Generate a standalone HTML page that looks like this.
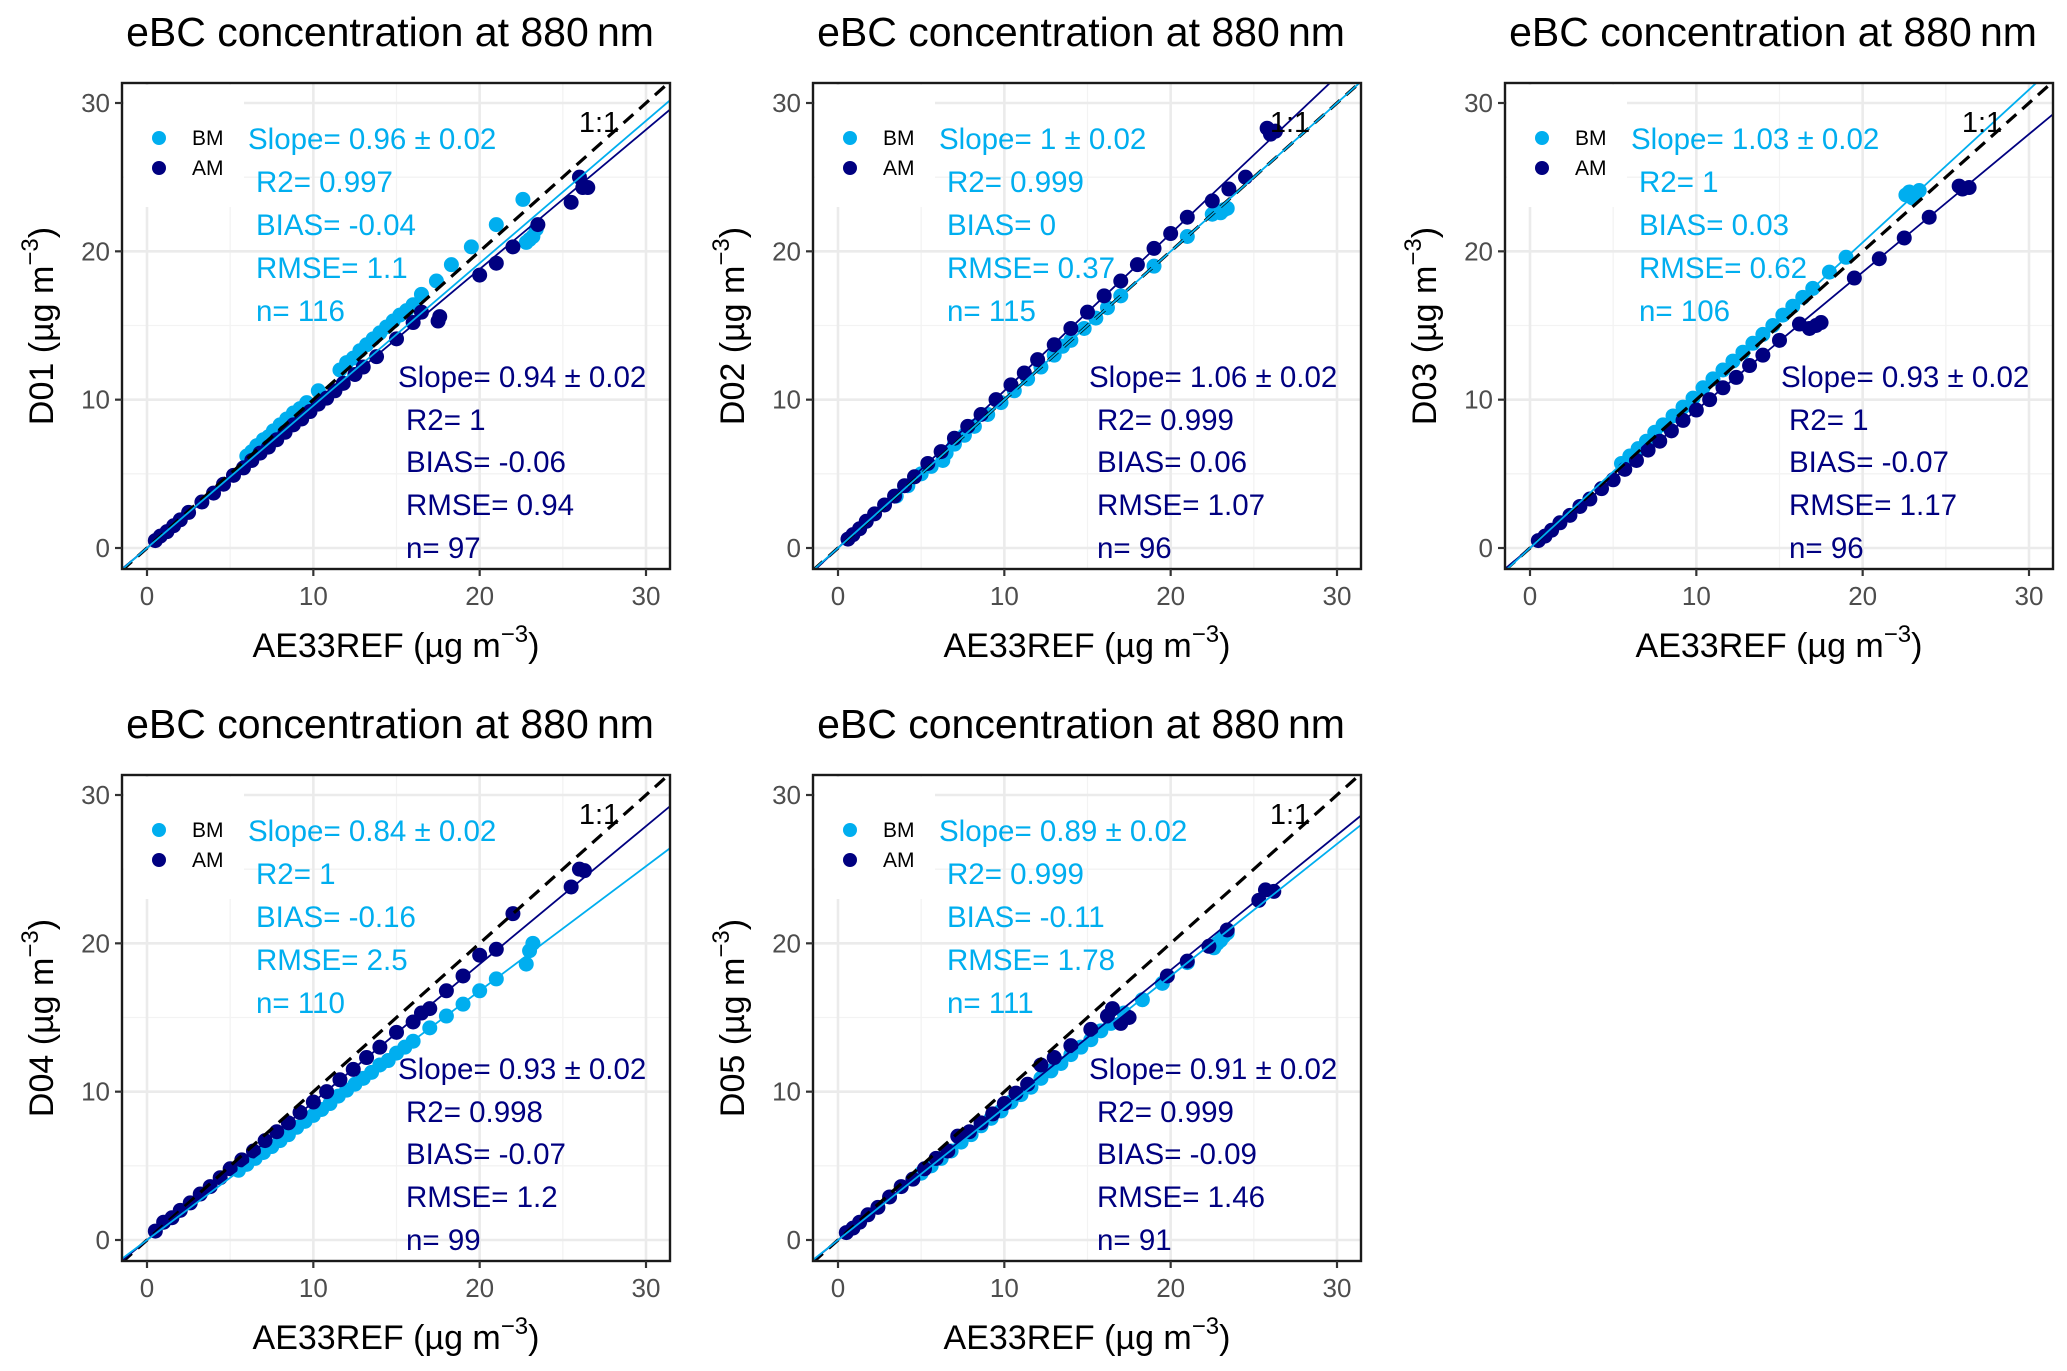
<!DOCTYPE html>
<html><head><meta charset="utf-8"><style>
html,body{margin:0;padding:0;background:#fff;}
svg{display:block;font-family:"Liberation Sans",Arial,sans-serif;}
</style></head><body>
<svg id="chart" width="2067" height="1371" viewBox="0 0 2067 1371" xmlns="http://www.w3.org/2000/svg"></svg>
<script>
const panelNames = ["D01","D02","D03","D04","D05"];
const bmSlopes = [0.96,1,1.03,0.84,0.89];
const amSlopes = [0.94,1.06,0.93,0.93,0.91];
const bmStats = [
 ["Slope= 0.96 ± 0.02","R2= 0.997","BIAS= -0.04","RMSE= 1.1","n= 116"],
 ["Slope= 1 ± 0.02","R2= 0.999","BIAS= 0","RMSE= 0.37","n= 115"],
 ["Slope= 1.03 ± 0.02","R2= 1","BIAS= 0.03","RMSE= 0.62","n= 106"],
 ["Slope= 0.84 ± 0.02","R2= 1","BIAS= -0.16","RMSE= 2.5","n= 110"],
 ["Slope= 0.89 ± 0.02","R2= 0.999","BIAS= -0.11","RMSE= 1.78","n= 111"]];
const amStats = [
 ["Slope= 0.94 ± 0.02","R2= 1","BIAS= -0.06","RMSE= 0.94","n= 97"],
 ["Slope= 1.06 ± 0.02","R2= 0.999","BIAS= 0.06","RMSE= 1.07","n= 96"],
 ["Slope= 0.93 ± 0.02","R2= 1","BIAS= -0.07","RMSE= 1.17","n= 96"],
 ["Slope= 0.93 ± 0.02","R2= 0.998","BIAS= -0.07","RMSE= 1.2","n= 99"],
 ["Slope= 0.91 ± 0.02","R2= 0.999","BIAS= -0.09","RMSE= 1.46","n= 91"]];
const tickValues = [0,10,20,30];
const tickLabels = ["0","10","20","30"];
const bmX = [
 [6,6.3,6.6,7,7.3,7.6,8,8.4,8.8,9.2,9.6,10.3,11.6,12,12.4,12.8,13.2,13.6,14,14.4,14.8,15.2,15.6,16,16.5,17.4,18.3,19.5,21,22.6,22.8,23,23.2,23.4],
 [3.5,4.2,5,5.6,6.3,6.5,7,7.6,8.2,9,9.8,10.6,11.4,12.2,13,13.5,14,14.8,15.5,16.2,17,19,21,22.5,22.8,23,23.2,23.4],
 [5.5,6,6.5,7,7.5,8,8.6,9.2,9.8,10.4,11,11.6,12.2,12.8,13.4,14,14.6,15.2,15.8,16.4,17,18,19,22.6,22.8,23,23.2,23.4],
 [5.5,6,6.5,7,7.5,8,8.5,9,9.5,10,10.5,11,11.5,12,12.5,13,13.5,14,14.5,15,15.5,16,17,18,19,20,21,22.8,23,23.2],
 [5,5.6,6.2,6.8,7.4,8,8.6,9.2,9.8,10.4,11,11.6,12.2,12.8,13.4,14,14.6,15.2,15.8,16.4,17.2,18.3,19.5,21,22.6,22.8,23,23.2,23.4]];
const bmY = [
 [6.2,6.5,6.9,7.3,7.5,7.9,8.3,8.7,9.1,9.4,9.8,10.6,12,12.5,12.8,13.3,13.7,14.1,14.5,14.9,15.3,15.7,16,16.4,17.1,18,19.1,20.3,21.8,23.5,20.6,20.8,21,21.5],
 [3.5,4.2,5,5.5,5.9,6.4,7,7.6,8.2,9,9.8,10.6,11.4,12.2,13,13.6,14,14.8,15.5,16.2,17,19,21,22.5,22.7,22.6,22.8,22.9],
 [5.7,6.2,6.7,7.2,7.8,8.3,8.9,9.5,10.1,10.8,11.4,12,12.6,13.2,13.8,14.4,15,15.7,16.3,16.9,17.5,18.6,19.6,23.8,24,23.6,23.9,24.1],
 [4.7,5.1,5.5,5.9,6.3,6.7,7.1,7.6,8,8.4,8.8,9.2,9.7,10.1,10.5,10.9,11.3,11.8,12.1,12.6,13,13.4,14.3,15.1,15.9,16.8,17.6,18.6,19.5,20],
 [4.5,5,5.5,6,6.6,7.1,7.7,8.2,8.7,9.3,9.8,10.3,10.9,11.4,11.9,12.5,13,13.5,14.1,14.6,15.3,16.2,17.3,18.7,19.7,20,20.2,20.5,20.7]];
const amX = [
 [0.5,0.8,1.2,1.6,2,2.5,3.3,4,4.6,5.2,5.8,6.3,6.8,7.3,7.8,8.3,8.8,9.3,9.8,10.3,10.8,11.3,11.8,12.5,13,13.8,15,16,16.5,17.5,17.6,20,21,22,23.5,25.5,26,26.2,26.5],
 [0.6,0.9,1.3,1.7,2.2,2.8,3.4,4,4.6,5.4,6.2,7,7.8,8.6,9.5,10.4,11.2,12,13,14,15,16,17,18,19,20,21,22.5,23.5,24.5,25.8,26,26.3],
 [0.5,0.9,1.3,1.8,2.4,3,3.6,4.3,5,5.7,6.4,7.1,7.8,8.5,9.2,10,10.8,11.6,12.4,13.2,14,15,16.2,16.8,17.2,17.5,19.5,21,22.5,24,25.8,26,26.4],
 [0.5,1,1.5,2,2.6,3.2,3.8,4.4,5,5.7,6.4,7.1,7.8,8.5,9.2,10,10.8,11.6,12.4,13.2,14,15,16,16.5,17,18,19,20,21,22,25.5,26,26.3],
 [0.5,0.9,1.3,1.8,2.4,3.1,3.8,4.5,5.2,5.9,6.6,7.2,7.9,8.6,9.3,10,10.7,11.4,12.2,13,14,15.2,16.2,16.5,17,17.5,19.8,21,22.3,23.4,25.3,25.7,26.2]];
const amY = [
 [0.5,0.8,1.1,1.5,1.9,2.4,3.1,3.7,4.3,4.9,5.4,5.9,6.4,6.8,7.3,7.8,8.3,8.7,9.2,9.7,10.1,10.6,11.1,11.7,12.2,12.9,14.1,15.2,15.9,15.3,15.6,18.4,19.2,20.3,21.8,23.3,25,24.3,24.3],
 [0.6,0.9,1.3,1.8,2.3,2.9,3.5,4.2,4.8,5.7,6.5,7.4,8.2,9,10,11,11.8,12.7,13.7,14.8,15.9,17,18,19.1,20.2,21.2,22.3,23.4,24.2,25,28.3,27.9,28.1],
 [0.5,0.8,1.2,1.7,2.2,2.8,3.3,4,4.6,5.3,5.9,6.6,7.2,7.9,8.6,9.3,10,10.8,11.5,12.3,13,14,15.1,14.8,15,15.2,18.2,19.5,20.9,22.3,24.4,24.2,24.3],
 [0.6,1.2,1.5,2,2.5,3.1,3.6,4.2,4.8,5.4,6,6.7,7.3,7.9,8.6,9.3,10,10.8,11.5,12.3,13,14,14.7,15.3,15.6,16.8,17.8,19.2,19.6,22,23.8,25,24.9],
 [0.5,0.8,1.2,1.7,2.2,2.9,3.6,4.1,4.8,5.5,6,7,7.3,7.9,8.5,9.2,9.9,10.5,11.8,12.3,13.1,14.2,15.1,15.6,14.6,15,17.8,18.8,19.8,20.9,22.9,23.6,23.5]];

const NS = "http://www.w3.org/2000/svg";
const svg = document.getElementById("chart");
const LIGHT = "#00aeef", DARK = "#000080";
const colOff = [0,691,1383], rowOff = [0,692];
const XMIN=-1.5, XMAX=31.45;
function mk(tag, attrs, parent){const e=document.createElementNS(NS,tag);for(const k in attrs)e.setAttribute(k,attrs[k]);(parent||svg).appendChild(e);return e;}

panelNames.forEach((name,i)=>{
  const ox = colOff[i%3], oy = rowOff[Math.floor(i/3)];
  const L=122+ox, R=670+ox, T=83+oy, B=569+oy;
  const sx = v => 147+ox + (v)*(646-147)/30;
  const sy = v => 548+oy - (v)*(548-103)/30;
  const g = mk("g",{});
  
  
  const t = mk("text",{x:390+ox,y:46+oy,"font-size":41,"text-anchor":"middle",fill:"#000"},g);
  t.textContent = "eBC concentration at 880\u2009nm";
  
  
  const clipId="clip"+i;
  const cp=mk("clipPath",{id:clipId},g); mk("rect",{x:L,y:T,width:R-L,height:B-T},cp);
  const grid = mk("g",{"clip-path":"url(#"+clipId+")"},g);
  
  
  [5,15,25].forEach(v=>{mk("line",{x1:sx(v),x2:sx(v),y1:T,y2:B,stroke:"#f3f3f3","stroke-width":1.3},grid);mk("line",{x1:L,x2:R,y1:sy(v),y2:sy(v),stroke:"#f3f3f3","stroke-width":1.3},grid);});
  tickValues.forEach(v=>{mk("line",{x1:sx(v),x2:sx(v),y1:T,y2:B,stroke:"#ebebeb","stroke-width":2.6},grid);mk("line",{x1:L,x2:R,y1:sy(v),y2:sy(v),stroke:"#ebebeb","stroke-width":2.6},grid);});
  mk("rect",{x:L+2,y:T+2,width:120,height:122,fill:"#fff"},grid);
  const plot = mk("g",{"clip-path":"url(#"+clipId+")"},g);
  bmX[i].forEach((x,j)=>{const c=mk("circle",{cx:sx(x),cy:sy(bmY[i][j]),r:7.5,fill:LIGHT},plot);
    
    });
  amX[i].forEach((x,j)=>{const c=mk("circle",{cx:sx(x),cy:sy(amY[i][j]),r:7.5,fill:DARK},plot);
    
    });
  const l1=mk("line",{x1:sx(XMIN),y1:sy(XMIN),x2:sx(XMAX),y2:sy(XMAX),stroke:"#000","stroke-width":3.2,"stroke-dasharray":"13 8"},plot);
  
  
  const l2=mk("line",{x1:sx(XMIN),y1:sy(XMIN*amSlopes[i]),x2:sx(XMAX),y2:sy(XMAX*amSlopes[i]),stroke:DARK,"stroke-width":1.8},plot);
  
  
  const l3=mk("line",{x1:sx(XMIN),y1:sy(XMIN*bmSlopes[i]),x2:sx(XMAX),y2:sy(XMAX*bmSlopes[i]),stroke:LIGHT,"stroke-width":1.8},plot);
  
  
  const o=mk("text",{x:599+ox,y:132+oy,"font-size":29,"text-anchor":"middle",fill:"#000"},g); o.textContent="1:1";
  
  
  [[LIGHT,"BM",138],[DARK,"AM",168]].forEach(([col,lab,y])=>{
    const c=mk("circle",{cx:159+ox,cy:y+oy,r:7,fill:col},g);
    
    
    const tx=mk("text",{x:192+ox,y:y+7+oy,"font-size":21,fill:"#000"},g); tx.textContent=lab;
    
    
  });
  const bmYs=[139,182,225,268,311], amYs=[377,420,462,505,548];
  bmStats[i].forEach((s,k)=>{const tx=mk("text",{x:(k?256:248)+ox,y:bmYs[k]+10+oy,"font-size":29.5,fill:LIGHT},g);tx.textContent=s;
    
    });
  amStats[i].forEach((s,k)=>{const tx=mk("text",{x:(k?406:398)+ox,y:amYs[k]+10+oy,"font-size":29.5,fill:DARK},g);tx.textContent=s;
    
    });
  const box=mk("rect",{x:L,y:T,width:R-L,height:B-T,fill:"none",stroke:"#1a1a1a","stroke-width":2.4},g);
  
  
  tickValues.forEach((v,k)=>{
    mk("line",{x1:sx(v),x2:sx(v),y1:B,y2:B+7,stroke:"#333","stroke-width":2.2},g);
    mk("line",{x1:L-7,x2:L,y1:sy(v),y2:sy(v),stroke:"#333","stroke-width":2.2},g);
    const xt=mk("text",{x:sx(v),y:B+36,"font-size":26,"text-anchor":"middle",fill:"#4d4d4d"},g);xt.textContent=tickLabels[k];
    
    
    const yt=mk("text",{x:L-12,y:sy(v)+9,"font-size":26,"text-anchor":"end",fill:"#4d4d4d"},g);yt.textContent=tickLabels[k];
    
    
  });
  const xa=mk("text",{x:(L+R)/2,y:B+88,"font-size":34,"text-anchor":"middle",fill:"#000"},g);
  xa.innerHTML='AE33REF (µg m<tspan dy="-15" font-size="24">−3</tspan><tspan dy="15">)</tspan>';
  
  
  const cy=(T+B)/2;
  const ya=mk("text",{x:0,y:0,"font-size":34,"text-anchor":"middle",fill:"#000",transform:"translate("+(53+ox)+","+cy+") rotate(-90)"},g);
  ya.innerHTML=name+' (µg m<tspan dy="-15" font-size="24">−3</tspan><tspan dy="15">)</tspan>';
  
  
});
</script>
</body></html>
